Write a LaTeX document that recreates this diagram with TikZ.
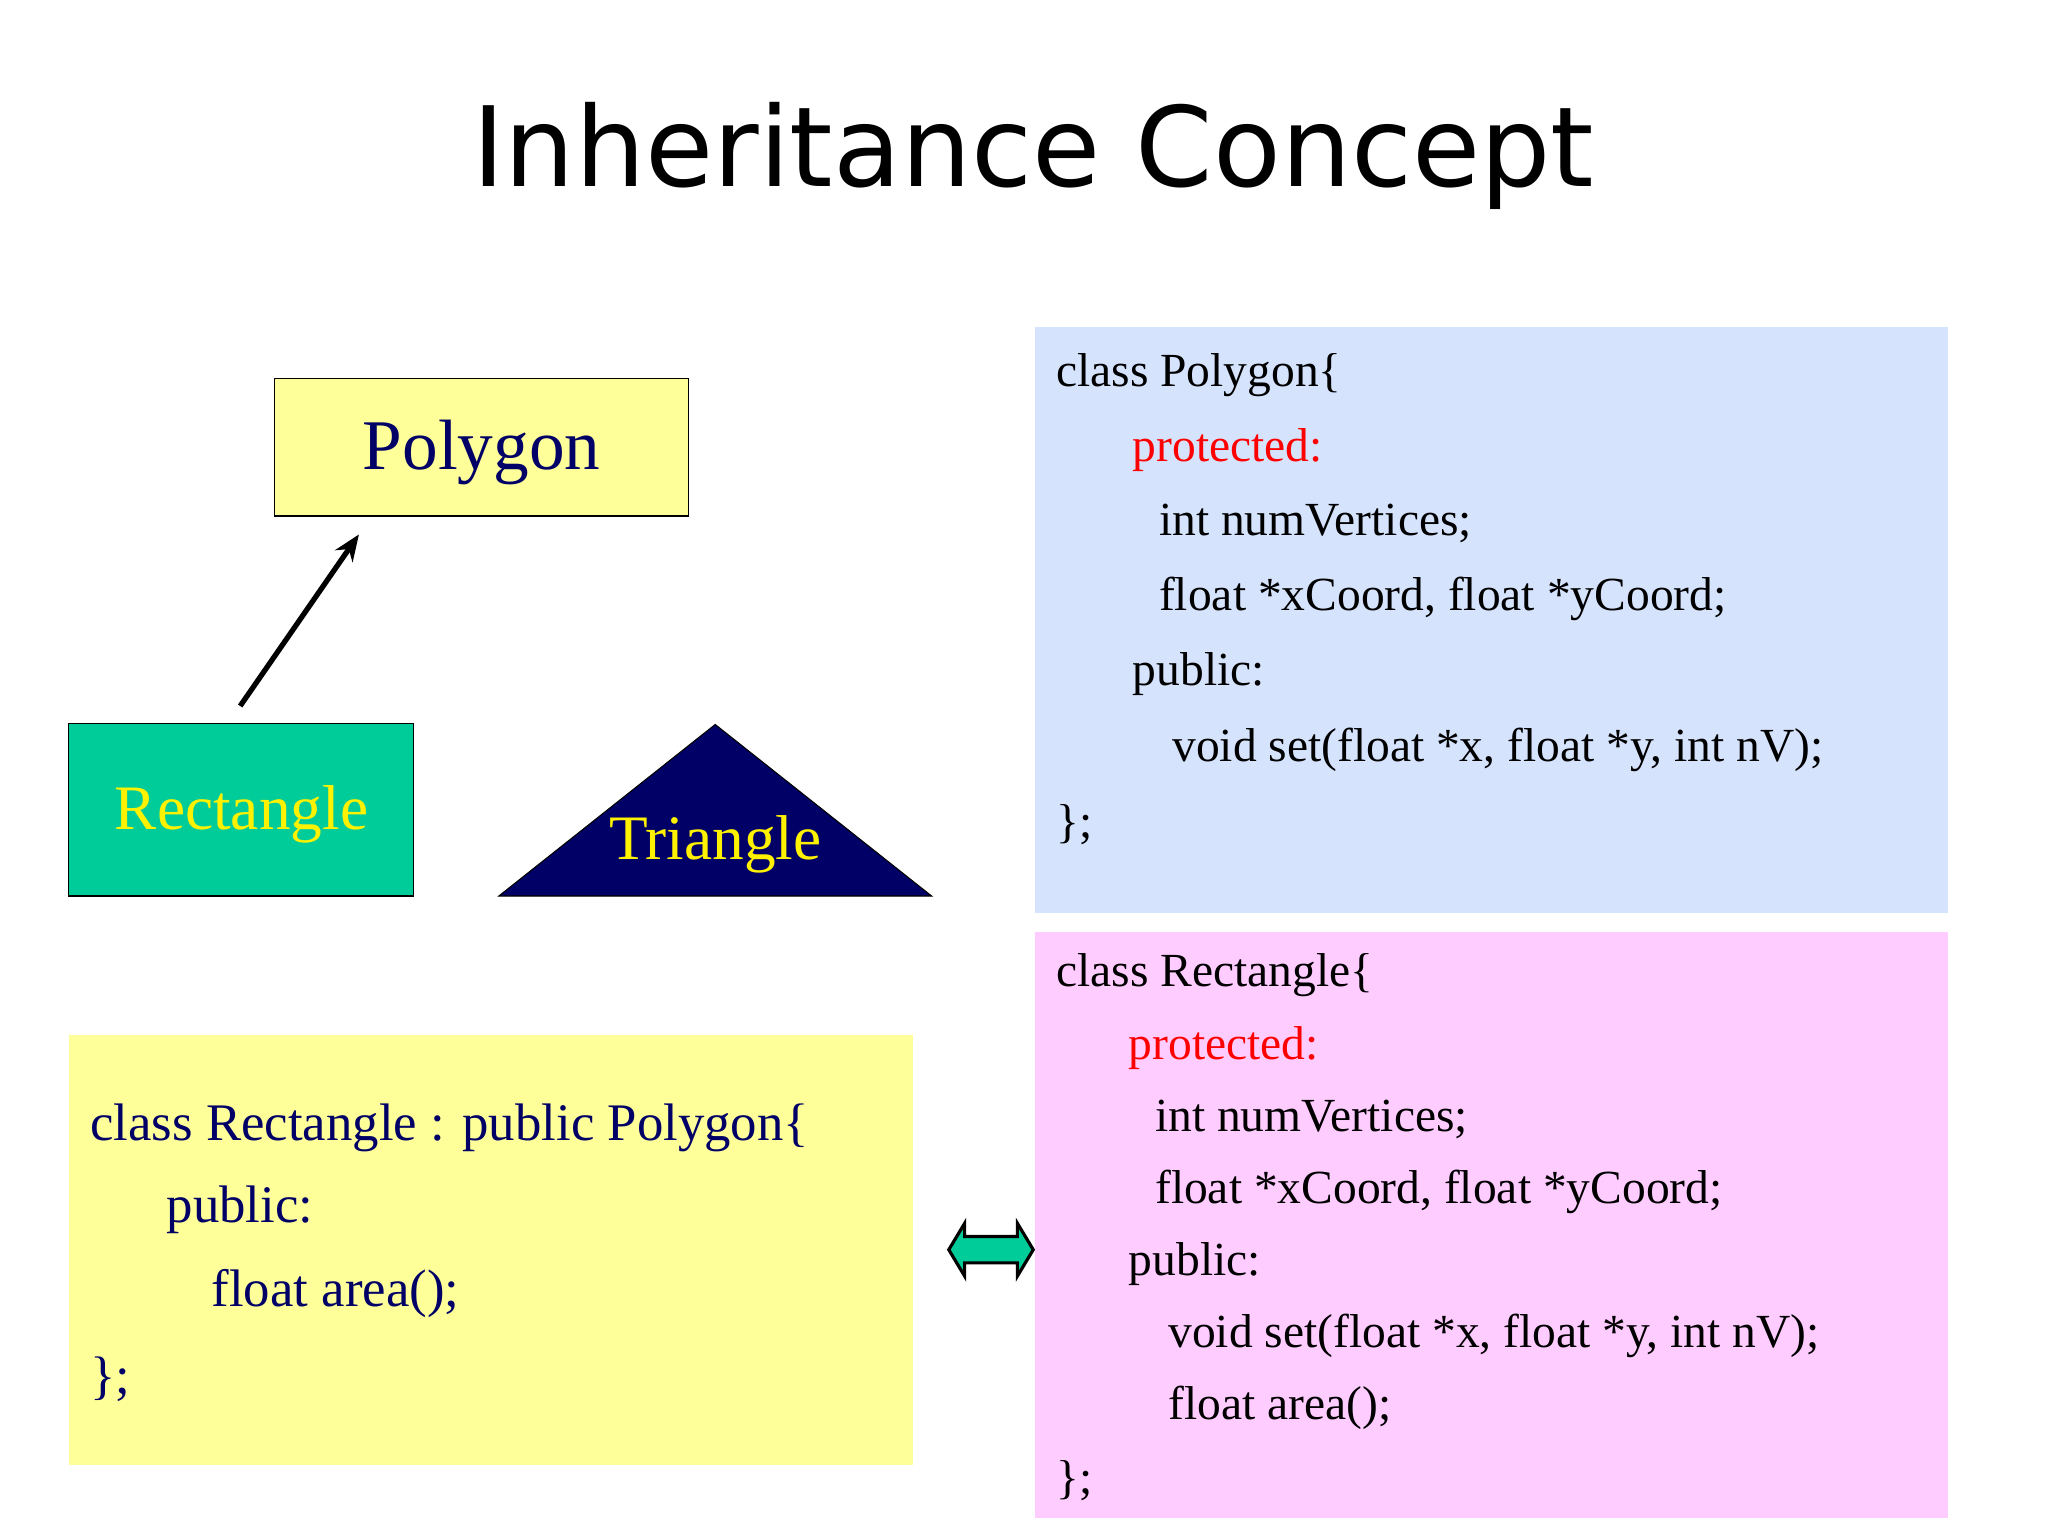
\documentclass[tikz,border=0pt]{standalone}
\usepackage{fontspec}
\usetikzlibrary{arrows.meta}
\setmainfont{Liberation Serif}
\newfontfamily\titlefont{DejaVu Sans}
\definecolor{navy}{HTML}{000066}
\definecolor{lyel}{HTML}{FFFF99}
\definecolor{teal}{HTML}{00CC99}
\definecolor{lblue}{HTML}{D6E3FD}
\definecolor{lpink}{HTML}{FFCCFF}
\definecolor{cred}{HTML}{FF0000}
\begin{document}
\begin{tikzpicture}[x=0.5pt,y=-0.5pt,
  code/.style={anchor=west,inner sep=0pt,font=\fontsize{18}{20}\selectfont},
  ycode/.style={anchor=west,inner sep=0pt,text=navy,font=\fontsize{20}{22}\selectfont}]
\useasboundingbox (0,0) rectangle (1552,1164);
\fill[white] (0,0) rectangle (1552,1164);
\node[font=\titlefont\fontsize{42}{46}\selectfont] (title) at (783,118) {Inheritance Concept};
% shapes
\draw[fill=lyel] (208,287) rectangle (522,391);
\node[text=navy,font=\fontsize{27}{30}\selectfont] (poly) at (365,343) {Polygon};
\draw[fill=teal] (52,548) rectangle (313,679);
\node[text=yellow,font=\fontsize{24}{26}\selectfont] (rect) at (183,617) {Rectangle};
\draw[fill=navy] (378,679) -- (706,679) -- (542,549) -- cycle;
\node[text=yellow,font=\fontsize{24}{26}\selectfont] (tri) at (542,640) {Triangle};
\coordinate (a1) at (182,535);
\coordinate (a2) at (272,405);
\draw[line width=2pt,-{Stealth[length=10pt,width=8pt]}] (a1) -- (a2);
% blue box
\fill[lblue] (784,248) rectangle (1476,692);
\node[code] (b1) at (800,284) {class Polygon\{};
\node[code,text=cred] (b2) at (858,341) {protected:};
\node[code] (b3) at (878,397) {int numVertices;};
\node[code] (b4) at (878,454) {float *xCoord, float *yCoord;};
\node[code] (b5) at (858,511) {public:};
\node[code] (b6) at (888,568) {void set(float *x, float *y, int nV);};
\node[code] (b7) at (800,625) {\};};
% pink box
\fill[lpink] (784,706) rectangle (1476,1150);
\node[code] (p1) at (800,739) {class Rectangle\{};
\node[code,text=cred] (p2) at (855,794) {protected:};
\node[code] (p3) at (875,848) {int numVertices;};
\node[code] (p4) at (875,903) {float *xCoord, float *yCoord;};
\node[code] (p5) at (855,958) {public:};
\node[code] (p6) at (885,1012) {void set(float *x, float *y, int nV);};
\node[code] (p7) at (885,1067) {float area();};
\node[code] (p8) at (800,1122) {\};};
% yellow box
\fill[lyel] (52,784) rectangle (692,1110);
\node[ycode] (y1) at (68,855) {class Rectangle : public Polygon\{};
\node[ycode] (y2) at (126,917) {public:};
\node[ycode] (y3) at (160,980) {float area();};
\node[ycode] (y4) at (68,1045) {\};};
% double arrow
\draw[fill=teal,line width=1.2pt,line join=miter]
  (719,947) -- (731,927) -- (731,937) -- (771,937) -- (771,927) -- (783,947)
  -- (771,967) -- (771,957) -- (731,957) -- (731,967) -- cycle;
\end{tikzpicture}
\end{document}
